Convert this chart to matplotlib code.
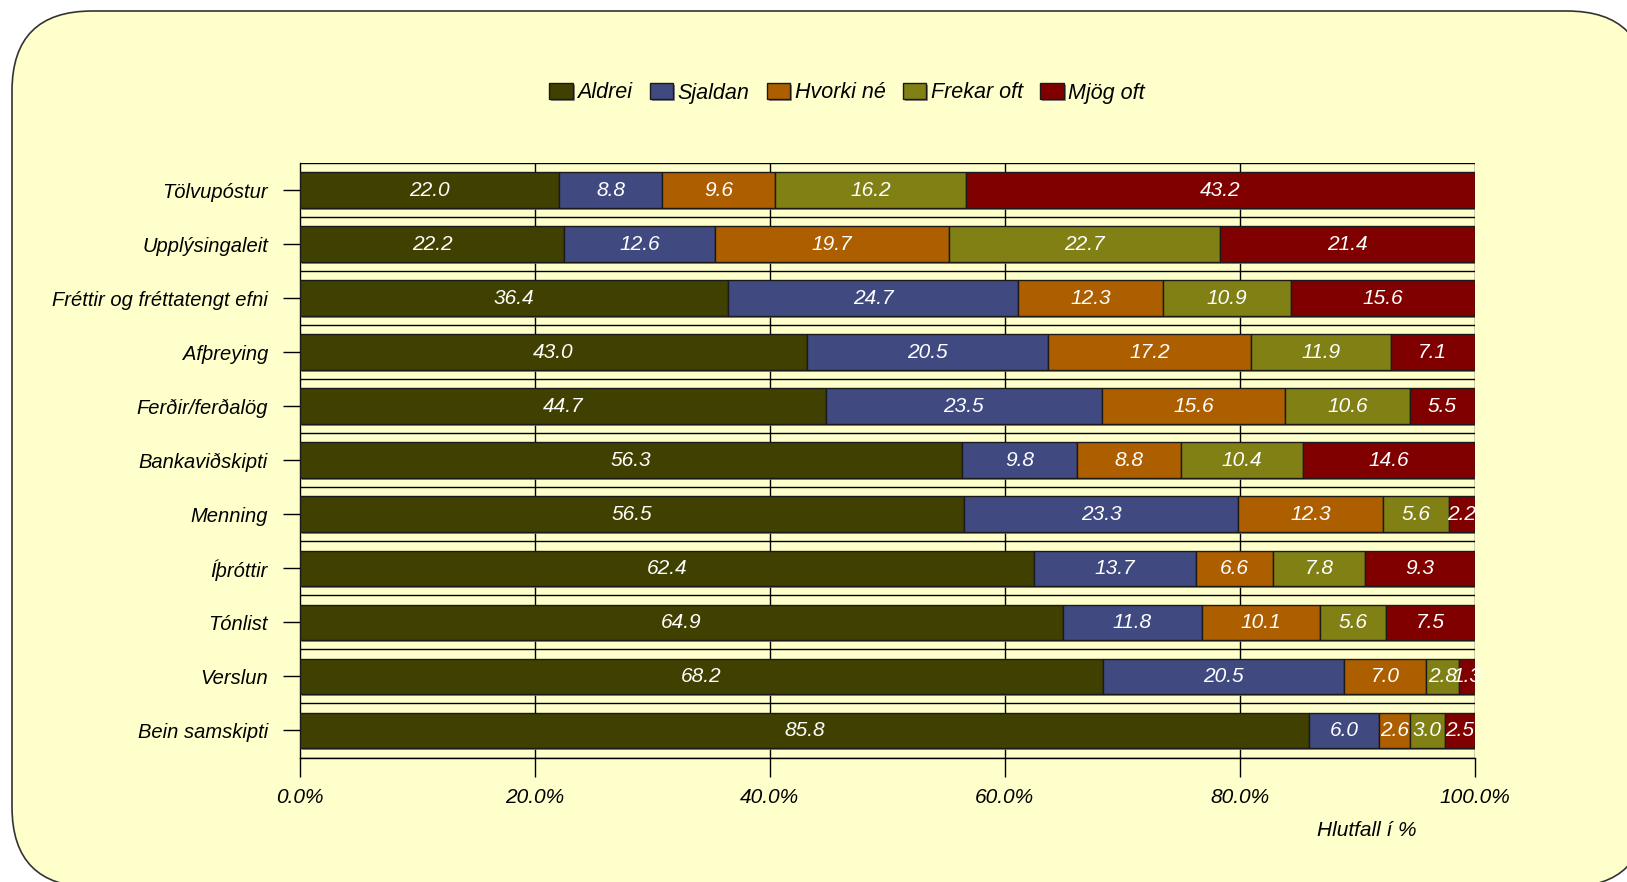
import numpy as np
import matplotlib
matplotlib.use('Agg')
import matplotlib.pyplot as plt
import matplotlib.patheffects as pe
from matplotlib.patches import FancyBboxPatch
from matplotlib.transforms import IdentityTransform

plt.rcParams['font.family'] = ['Liberation Sans Narrow', 'Liberation Sans', 'DejaVu Sans']
plt.rcParams['font.style'] = 'italic'

categories = ['Tölvupóstur', 'Upplýsingaleit', 'Fréttir og fréttatengt efni', 'Afþreying',
              'Ferðir/ferðalög', 'Bankaviðskipti', 'Menning', 'Íþróttir', 'Tónlist',
              'Verslun', 'Bein samskipti']
series = ['Aldrei', 'Sjaldan', 'Hvorki né', 'Frekar oft', 'Mjög oft']
aldrei = [22.0, 22.2, 36.4, 43.0, 44.7, 56.3, 56.5, 62.4, 64.9, 68.2, 85.8]
sjaldan = [8.8, 12.6, 24.7, 20.5, 23.5, 9.8, 23.3, 13.7, 11.8, 20.5, 6.0]
hvorki = [9.6, 19.7, 12.3, 17.2, 15.6, 8.8, 12.3, 6.6, 10.1, 7.0, 2.6]
frekar = [16.2, 22.7, 10.9, 11.9, 10.6, 10.4, 5.6, 7.8, 5.6, 2.8, 3.0]
mjog = [43.2, 21.4, 15.6, 7.1, 5.5, 14.6, 2.2, 9.3, 7.5, 1.3, 2.5]
colors = ['#404000', '#404a80', '#ad5f00', '#808014', '#800000']

data = np.array([aldrei, sjaldan, hvorki, frekar, mjog])
share = data / data.sum(axis=0) * 100  # 100% stacked

fig = plt.figure(figsize=(16.27, 8.82), dpi=100)
fig.patch.set_facecolor('white')

# rounded background panel (pixel coords)
box = FancyBboxPatch((12, -5), 1635, 876, boxstyle='round,pad=0,rounding_size=80',
                     transform=IdentityTransform(), facecolor='#ffffcc',
                     edgecolor='#333333', linewidth=1.2, zorder=0)
fig.add_artist(box)

ax = fig.add_axes([300 / 1627, 1 - 757.5 / 882, 1174.5 / 1627, (757.5 - 163) / 882])
ax.set_facecolor('none')

y = np.arange(len(categories))
# grid lines
for gx in [20, 40, 60, 80, 100]:
    ax.axvline(gx, color='black', lw=1, zorder=1)
for gy in np.arange(-0.5, len(categories), 1):
    ax.axhline(gy, color='black', lw=1, zorder=1)

left = np.zeros(len(categories))
for i, name in enumerate(series):
    bars = ax.barh(y, share[i], left=left, height=0.66, color=colors[i],
                   edgecolor='#1a1a1a', linewidth=1, label=name, zorder=3)
    for b in bars:
        b.set_path_effects([pe.SimplePatchShadow(offset=(1.5, -1.5), shadow_rgbFace='#777777', alpha=0.8),
                            pe.Normal()])
    for j in range(len(categories)):
        ax.text(left[j] + share[i][j] / 2, y[j], f'{data[i][j]:.1f}', ha='center', va='center',
                color='white', fontsize=15, zorder=4)
    left += share[i]

ax.set_xlim(0, 100)
ax.set_ylim(len(categories) - 0.5, -0.5)
ax.set_yticks(y)
ax.set_yticklabels(categories, fontsize=14.5)
ax.set_xticks([0, 20, 40, 60, 80, 100])
ax.set_xticklabels([f'{v:.1f}%' for v in [0, 20, 40, 60, 80, 100]], fontsize=15)
ax.tick_params(axis='y', length=12, width=1, pad=11, direction='out')
ax.tick_params(axis='x', length=14, width=1, pad=8, direction='out')
for s in ['top', 'right']:
    ax.spines[s].set_visible(False)
ax.spines['left'].set_linewidth(1)
ax.spines['bottom'].set_linewidth(1)

fig.text(1367 / 1627, 1 - 830 / 882, 'Hlutfall í %', ha='center', va='center', fontsize=15)

fig.legend(loc='center', bbox_to_anchor=(847 / 1627, 1 - 93 / 882), ncol=5, frameon=False,
           fontsize=15.5, handlelength=1.1, handleheight=0.8, handletextpad=0.2, columnspacing=0.8)

fig.savefig('out.png', dpi=100)
